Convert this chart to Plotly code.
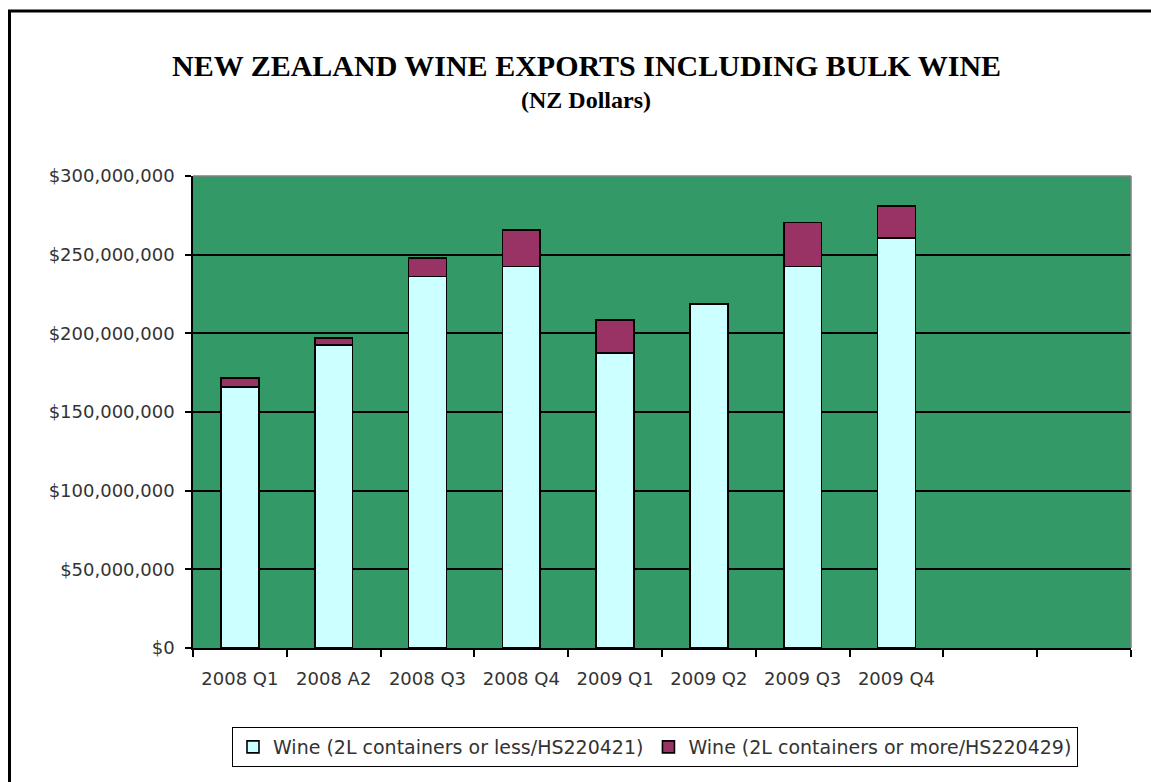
import plotly.graph_objects as go

# Quarterly export values (NZ$)
quarters = ["2008 Q1", "2008 A2", "2008 Q3", "2008 Q4",
            "2009 Q1", "2009 Q2", "2009 Q3", "2009 Q4"]
# two empty slots at the right end of the category axis
empty_slots = [" ", "  "]

small_containers = [166_000_000, 192_500_000, 236_000_000, 242_500_000,
                    187_500_000, 218_500_000, 242_500_000, 260_500_000]
large_containers = [5_500_000, 4_500_000, 12_000_000, 23_000_000,
                    21_000_000, 0, 28_000_000, 20_500_000]

series_names = ["Wine (2L containers or less/HS220421)",
                "Wine (2L containers or more/HS220429)"]

y_ticks = [0, 50_000_000, 100_000_000, 150_000_000,
           200_000_000, 250_000_000, 300_000_000]
y_tick_labels = ["$0", "$50,000,000", "$100,000,000", "$150,000,000",
                 "$200,000,000", "$250,000,000", "$300,000,000"]

W, H = 1151, 782
L, R, T, B = 193, 20, 176, 134
pw, ph = W - L - R, H - T - B


def px_x(px):
    return (px - L) / pw


def px_y(py):
    return (H - B - py) / ph


tick_font = dict(family="DejaVu Sans", size=18, color="#333333")

fig = go.Figure()
fig.add_trace(go.Bar(
    x=quarters, y=small_containers, name=series_names[0],
    marker=dict(color="#CCFFFF", line=dict(color="black", width=1.6)),
))
fig.add_trace(go.Bar(
    x=quarters, y=large_containers, name=series_names[1],
    marker=dict(color="#993366", line=dict(color="black", width=1.6)),
))

fig.update_layout(
    width=W, height=H,
    margin=dict(l=L, r=R, t=T, b=B, autoexpand=False),
    barmode="stack",
    bargap=0.595,
    paper_bgcolor="white",
    plot_bgcolor="#339966",
    showlegend=True,
    legend=dict(
        orientation="h",
        x=px_x(655), xanchor="center",
        y=px_y(727), yanchor="top",
        bgcolor="white",
        bordercolor="black", borderwidth=1,
        font=dict(family="DejaVu Sans", size=19, color="#333333"),
        traceorder="normal",
    ),
    xaxis=dict(
        type="category",
        categoryorder="array",
        categoryarray=quarters + empty_slots,
        range=[-0.5, len(quarters) + len(empty_slots) - 0.5],
        tickson="boundaries",
        ticks="outside", ticklen=7, tickwidth=1.5, tickcolor="black",
        ticklabelstandoff=14,
        showline=True, linecolor="black", linewidth=1.5,
        showgrid=False,
        tickfont=tick_font,
        fixedrange=True,
    ),
    yaxis=dict(
        range=[0, 300_000_000],
        tickvals=y_ticks, ticktext=y_tick_labels,
        ticks="outside", ticklen=6, tickwidth=1.5, tickcolor="black",
        ticklabelstandoff=7,
        showline=True, linecolor="black", linewidth=1.5,
        showgrid=True, gridcolor="black", gridwidth=1.6,
        zeroline=False,
        tickfont=tick_font,
        fixedrange=True,
    ),
    shapes=[
        # plot-area frame (top and right edges)
        dict(type="line", xref="paper", yref="paper", x0=0, x1=1, y0=1, y1=1,
             line=dict(color="#808080", width=1.5)),
        dict(type="line", xref="paper", yref="paper", x0=1, x1=1, y0=0, y1=1,
             line=dict(color="#808080", width=1.5)),
        # outer chart frame
        dict(type="rect", xref="paper", yref="paper",
             x0=px_x(9.5), x1=px_x(1200), y0=px_y(11), y1=px_y(840),
             line=dict(color="black", width=3)),
    ],
    annotations=[
        dict(text="<b>NEW ZEALAND WINE EXPORTS INCLUDING BULK WINE</b>",
             xref="paper", yref="paper", x=px_x(586), y=px_y(66),
             xanchor="center", yanchor="middle", showarrow=False,
             font=dict(family="Liberation Serif", size=30, color="black")),
        dict(text="<b>(NZ Dollars)</b>",
             xref="paper", yref="paper", x=px_x(586), y=px_y(100),
             xanchor="center", yanchor="middle", showarrow=False,
             font=dict(family="Liberation Serif", size=24, color="black")),
    ],
)

fig.write_html("out.html")
